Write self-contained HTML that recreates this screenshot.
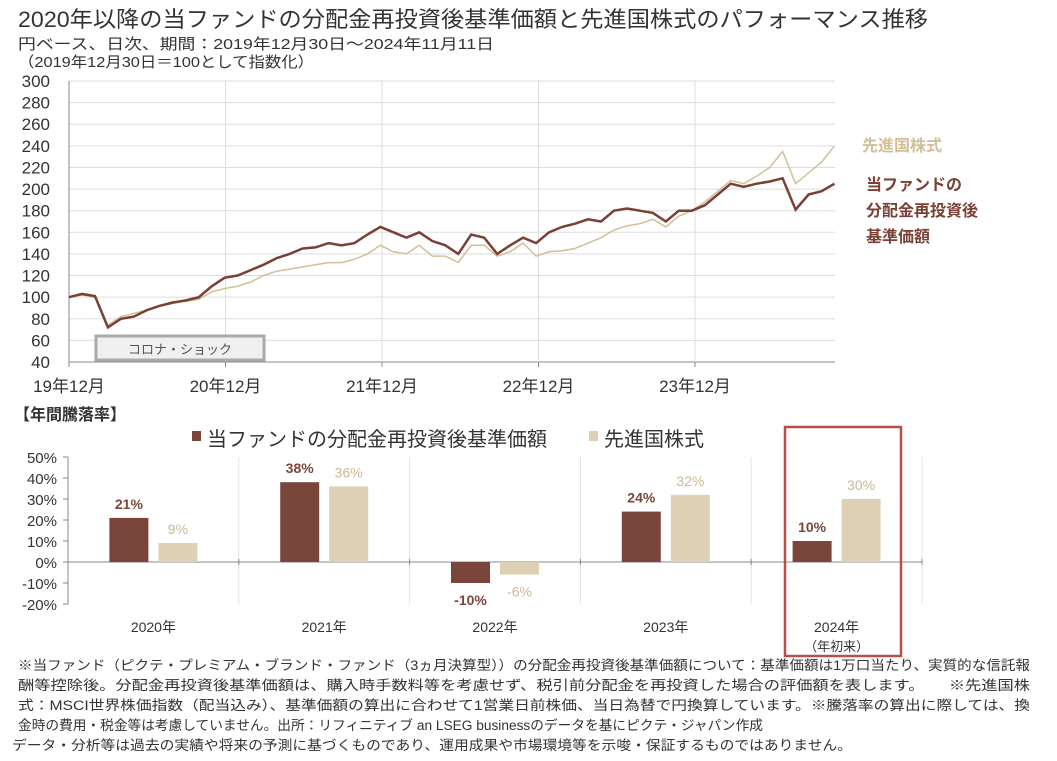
<!DOCTYPE html>
<html><head><meta charset="utf-8"><style>
body{margin:0;background:#fff}
svg{display:block;font-family:"Liberation Sans","Noto Sans CJK JP",sans-serif}
</style></head><body>
<svg id="c" width="1057" height="761" viewBox="0 0 1057 761">
<text x="18" y="27" font-size="22" fill="#333" textLength="910" lengthAdjust="spacingAndGlyphs">2020年以降の当ファンドの分配金再投資後基準価額と先進国株式のパフォーマンス推移</text>
<text x="18" y="49" font-size="15" fill="#333" textLength="476" lengthAdjust="spacingAndGlyphs">円ベース、日次、期間：2019年12月30日～2024年11月11日</text>
<text x="18" y="67" font-size="15" fill="#333" textLength="296" lengthAdjust="spacingAndGlyphs">（2019年12月30日＝100として指数化）</text>
<g id="line"></g>
<g id="bar"></g>
<g font-size="13.5" fill="#333">
<text x="18" y="670" textLength="1012" lengthAdjust="spacingAndGlyphs">※当ファンド（ピクテ・プレミアム・ブランド・ファンド（3ヵ月決算型））の分配金再投資後基準価額について：基準価額は1万口当たり、実質的な信託報</text>
<text x="18" y="690" textLength="1012" lengthAdjust="spacingAndGlyphs">酬等控除後。分配金再投資後基準価額は、購入時手数料等を考慮せず、税引前分配金を再投資した場合の評価額を表します。　　※先進国株</text>
<text x="18" y="710" textLength="1012" lengthAdjust="spacingAndGlyphs">式：MSCI世界株価指数（配当込み）、基準価額の算出に合わせて1営業日前株価、当日為替で円換算しています。※騰落率の算出に際しては、換</text>
<text x="18" y="730" textLength="745" lengthAdjust="spacingAndGlyphs">金時の費用・税金等は考慮していません。出所：リフィニティブ an LSEG businessのデータを基にピクテ・ジャパン作成</text>
<text x="12" y="750" textLength="840" lengthAdjust="spacingAndGlyphs">データ・分析等は過去の実績や将来の予測に基づくものであり、運用成果や市場環境等を示唆・保証するものではありません。</text>
</g>
</svg>
<script>
const fundVals=[100,103,101,72,80,82,88,92,95,97,100,110,118,120,125,130,136,140,145,146,150,148,150,158,165,160,155,160,152,148,140,158,155,140,148,155,150,160,165,168,172,170,180,182,180,178,170,180,180,185,195,205,202,205,207,210,181,195,198,205];
const idxVals=[100,102,100,74,82,85,88,92,96,96,98,105,108,110,114,120,124,126,128,130,132,132,135,140,148,142,140,148,138,138,132,148,148,138,142,150,138,142,143,145,150,155,162,166,168,172,165,175,180,188,198,208,205,212,220,235,205,215,225,240];
const yTicks=[40,60,80,100,120,140,160,180,200,220,240,260,280,300];
const xLabels=["19年12月","20年12月","21年12月","22年12月","23年12月"];
const barCats=["2020年","2021年","2022年","2023年","2024年"];
const barFund=[21,38,-10,24,10];
const barIdx=[9,36,-6,32,30];
const barTicks=[-20,-10,0,10,20,30,40,50];

const NS="http://www.w3.org/2000/svg";
function mk(p,t,a,txt){const e=document.createElementNS(NS,t);for(const k in a)e.setAttribute(k,a[k]);if(txt!==undefined)e.textContent=txt;p.appendChild(e);return e;}
const L=document.getElementById('line');
const x0=69,yr=156.5;
const xm=m=>x0+m*yr/12;
const y=v=>362-(v-40)*281/260;
yTicks.forEach(v=>{
 const g=mk(L,'line',{x1:x0,x2:835,y1:y(v),y2:y(v),stroke:v==40?'#888':'#ddd'});
 
 
 const t=mk(L,'text',{x:50,y:y(v)+6,'font-size':17,fill:'#333','text-anchor':'end'},v);
 
 
});
mk(L,'line',{x1:x0,x2:x0,y1:y(300),y2:y(40),stroke:'#888'});
xLabels.forEach((s,i)=>{
 const xx=xm(i*12);
 if(i>0){const g=mk(L,'line',{x1:xx,x2:xx,y1:y(300),y2:y(40),stroke:'#ddd'});
 }
 mk(L,'line',{x1:xx,x2:xx,y1:y(40),y2:y(40)+5,stroke:'#888'});
 const t=mk(L,'text',{x:xx,y:392,'font-size':17,fill:'#333','text-anchor':'middle'},s);
 
 
});
const box=mk(L,'rect',{x:96,y:336,width:168,height:24,fill:'#f0f0f0',stroke:'#aaa','stroke-width':3});


mk(L,'text',{x:180,y:354,'font-size':13,fill:'#555','text-anchor':'middle'},'コロナ・ショック');
function path(vals){return vals.map((v,i)=>(i?'L':'M')+xm(i*(58.7/(vals.length-1))).toFixed(1)+','+y(v).toFixed(1)).join('');}
const pi=mk(L,'path',{d:path(idxVals),fill:'none',stroke:'#d2bf98','stroke-width':1.5});


const pf=mk(L,'path',{d:path(fundVals),fill:'none',stroke:'#7a3f35','stroke-width':2.5});


const l1=mk(L,'text',{x:862,y:151,'font-size':16,'font-weight':'bold',fill:'#d2bf98'},'先進国株式');


['当ファンドの','分配金再投資後','基準価額'].forEach((s,i)=>{
 const t=mk(L,'text',{x:866,y:190+i*26,'font-size':16,'font-weight':'bold',fill:'#7a3f35'},s);
 
 
});

const B=document.getElementById('bar');
const by=v=>562-v*2.1;
const bx0=68,cw=170.8;
mk(B,'text',{x:14,y:420,'font-size':16,'font-weight':'bold',fill:'#333'},'【年間騰落率】');
const s1=mk(B,'rect',{x:192,y:431,width:9,height:10,fill:'#7a463c'});

mk(B,'text',{x:207,y:446,'font-size':20,fill:'#333'},'当ファンドの分配金再投資後基準価額');
const s2=mk(B,'rect',{x:589,y:431,width:9,height:10,fill:'#ded0b4'});

mk(B,'text',{x:604,y:446,'font-size':20,fill:'#333'},'先進国株式');
barTicks.forEach(v=>{
 const t=mk(B,'text',{x:57,y:by(v)+6,'font-size':15,fill:'#333','text-anchor':'end'},v+'%');
 
 
 mk(B,'line',{x1:63,x2:68,y1:by(v),y2:by(v),stroke:'#888'});
});
mk(B,'line',{x1:68,x2:68,y1:by(50),y2:by(-20),stroke:'#888'});
for(let i=1;i<=barCats.length;i++){const xx=bx0+i*cw;mk(B,'line',{x1:xx,x2:xx,y1:by(50),y2:by(-20),stroke:'#e4e4e4'});mk(B,'line',{x1:xx,x2:xx,y1:by(0)-3,y2:by(0)+3,stroke:'#888'});}
mk(B,'line',{x1:68,x2:bx0+barCats.length*cw,y1:by(0),y2:by(0),stroke:'#888'});
barCats.forEach((c,i)=>{
 const cx=bx0+(i+.5)*cw;
 [[barFund[i],'#7a463c',-44,'bar-fund','#7a463c','bold'],[barIdx[i],'#ded0b4',5,'bar-index','#cdb894','normal']].forEach(([v,col,off,nm,tc,fw])=>{
  const r=mk(B,'rect',{x:cx+off,y:Math.min(by(v),by(0)),width:39,height:Math.abs(by(v)-by(0)),fill:col});
  
  
  const ly=v>=0?by(v)-9:by(v)+22;
  const t=mk(B,'text',{x:cx+off+19.5,y:ly,'font-size':14,'font-weight':fw,fill:tc,'text-anchor':'middle'},v+'%');
  
  
 });
 const t=mk(B,'text',{x:cx,y:632,'font-size':14,fill:'#333','text-anchor':'middle'},c);
 
 
});
mk(B,'text',{x:bx0+4.5*cw,y:651,'font-size':13,fill:'#333','text-anchor':'middle'},'（年初来）');
const hb=mk(B,'rect',{x:785,y:427,width:116,height:229,fill:'none',stroke:'#b5504a','stroke-width':2.5});


</script>
</body></html>
